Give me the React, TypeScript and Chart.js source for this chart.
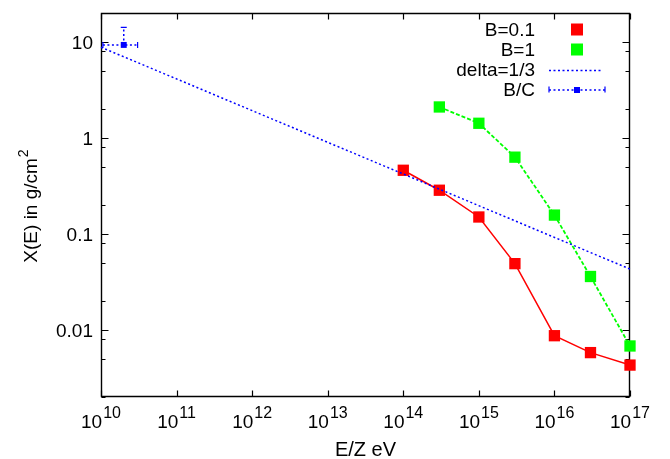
import { useEffect, useRef } from "react";
import { Chart, registerables } from "chart.js";

Chart.register(...registerables);

// ---- data ----
const energyB01 = [1e14, 3e14, 1e15, 3e15, 1e16, 3e16, 1e17];
const depthB01 = [0.46, 0.285, 0.15, 0.049, 0.0087, 0.0058, 0.0043];

const energyB1 = [3e14, 1e15, 3e15, 1e16, 3e16, 1e17];
const depthB1 = [2.1, 1.42, 0.63, 0.157, 0.036, 0.0068];

const energyDelta = [1e10, 1e17];
const depthDelta = [8.8, 0.043];

const energyBC = [2e10];
const depthBC = [9.3];
const energyBCLow = [1.06e10];
const energyBCHigh = [3.05e10];
const depthBCLow = [9.3];
const depthBCHigh = [14.2];

const xTickExponents = [10, 11, 12, 13, 14, 15, 16, 17];
const yMajorTicks = [0.01, 0.1, 1, 10];
const yMajorLabels = ["0.01", "0.1", "1", "10"];
const yMinorTicks = [0.002, 0.005, 0.008, 0.02, 0.05, 0.08, 0.2, 0.5, 0.8, 2, 5, 8, 20];
const legendLabels = ["B=0.1", "B=1", "delta=1/3", "B/C"];

const xTitle = "E/Z eV";
const yTitle = "X(E) in g/cm";
const yTitleSup = "2";

const FONT = '"Liberation Sans", Arial, Helvetica, sans-serif';
const RED = "#ff0000";
const GREEN = "#00ff00";
const BLUE = "#0000ff";
const DOT = [2, 2.5];

const framePlugin = {
  id: "gnuplotFrame",
  beforeDatasetsDraw(chart: any) {
    const { ctx, chartArea: a, scales } = chart;
    const xs = scales.x;
    const ys = scales.y;
    const L = Math.round(a.left) + 0.5;
    const R = Math.round(a.right) - 0.5;
    const T = Math.round(a.top) + 0.5;
    const B = Math.round(a.bottom) - 0.5;
    ctx.save();
    ctx.strokeStyle = "#000";
    ctx.lineWidth = 1.4;
    ctx.setLineDash([]);
    ctx.beginPath();
    ctx.moveTo(L, T);
    ctx.lineTo(R, T);
    ctx.lineTo(R, B);
    ctx.lineTo(L, B);
    ctx.closePath();
    ctx.stroke();

    ctx.lineWidth = 1.2;
    ctx.beginPath();
    xTickExponents.forEach((e) => {
      const px = Math.round(xs.getPixelForValue(Math.pow(10, e))) + 0.5;
      ctx.moveTo(px, B);
      ctx.lineTo(px, B - 6);
      ctx.moveTo(px, T);
      ctx.lineTo(px, T + 6);
    });
    yMajorTicks.forEach((v) => {
      const py = Math.round(ys.getPixelForValue(v)) + 0.5;
      ctx.moveTo(L, py);
      ctx.lineTo(L + 7, py);
      ctx.moveTo(R, py);
      ctx.lineTo(R - 7, py);
    });
    yMinorTicks.forEach((v) => {
      const py = Math.round(ys.getPixelForValue(v)) + 0.5;
      ctx.moveTo(L, py);
      ctx.lineTo(L + 4, py);
      ctx.moveTo(R, py);
      ctx.lineTo(R - 4, py);
    });
    ctx.stroke();

    // tick labels
    ctx.fillStyle = "#000";
    ctx.textBaseline = "alphabetic";
    ctx.font = `19px ${FONT}`;
    ctx.textAlign = "right";
    yMajorTicks.forEach((v, i) => {
      const py = ys.getPixelForValue(v);
      ctx.fillText(yMajorLabels[i], a.left - 8, py + 6.8);
    });
    ctx.textAlign = "left";
    xTickExponents.forEach((e) => {
      const px = xs.getPixelForValue(Math.pow(10, e));
      ctx.font = `19px ${FONT}`;
      const wb = ctx.measureText("10").width;
      ctx.font = `16px ${FONT}`;
      const we = ctx.measureText(String(e)).width;
      const total = wb + 1 + we;
      const x0 = px - total / 2;
      ctx.font = `19px ${FONT}`;
      ctx.fillText("10", x0, a.bottom + 30.5);
      ctx.font = `16px ${FONT}`;
      ctx.fillText(String(e), x0 + wb + 1, a.bottom + 20.5);
    });

    // axis titles
    ctx.font = `20px ${FONT}`;
    ctx.textAlign = "center";
    ctx.fillText(xTitle, (a.left + a.right) / 2, 456);

    ctx.save();
    ctx.font = `19px ${FONT}`;
    const wt = ctx.measureText(yTitle).width;
    ctx.font = `14px ${FONT}`;
    const ws = ctx.measureText(yTitleSup).width;
    const tot = wt + 1 + ws;
    ctx.translate(37, 206 + tot / 2);
    ctx.rotate(-Math.PI / 2);
    ctx.textAlign = "left";
    ctx.font = `19px ${FONT}`;
    ctx.fillText(yTitle, 0, 0);
    ctx.font = `14px ${FONT}`;
    ctx.fillText(yTitleSup, wt + 1, -9);
    ctx.restore();

    ctx.restore();
  },
  afterDatasetsDraw(chart: any) {
    const { ctx, scales } = chart;
    const xs = scales.x;
    const ys = scales.y;
    ctx.save();
    energyBC.forEach((e, i) => {
      const px = xs.getPixelForValue(e);
      const py = ys.getPixelForValue(depthBC[i]);
      const xl = xs.getPixelForValue(energyBCLow[i]);
      const xh = xs.getPixelForValue(energyBCHigh[i]);
      const yl = ys.getPixelForValue(depthBCLow[i]);
      const yh = ys.getPixelForValue(depthBCHigh[i]);
      ctx.strokeStyle = BLUE;
      ctx.lineWidth = 1.5;
      ctx.setLineDash(DOT);
      ctx.beginPath();
      ctx.moveTo(xl, py);
      ctx.lineTo(xh, py);
      ctx.moveTo(px, yl);
      ctx.lineTo(px, yh);
      ctx.stroke();
      ctx.setLineDash([]);
      ctx.lineWidth = 1.2;
      ctx.beginPath();
      ctx.moveTo(xl, py - 3);
      ctx.lineTo(xl, py + 3);
      ctx.moveTo(xh, py - 3);
      ctx.lineTo(xh, py + 3);
      ctx.moveTo(px - 3, yh);
      ctx.lineTo(px + 3, yh);
      ctx.stroke();
    });
    ctx.restore();
  },
  afterDraw(chart: any) {
    const { ctx } = chart;
    ctx.save();
    ctx.fillStyle = "#000";
    ctx.font = `19px ${FONT}`;
    ctx.textAlign = "right";
    ctx.textBaseline = "alphabetic";
    const rows = [29.5, 49.5, 69.5, 89.5];
    legendLabels.forEach((t, i) => ctx.fillText(t, 535, rows[i] + 6.8));
    // samples
    ctx.fillStyle = RED;
    ctx.fillRect(571, rows[0] - 6, 12, 12);
    ctx.fillStyle = GREEN;
    ctx.fillRect(571, rows[1] - 6, 12, 12);
    ctx.strokeStyle = BLUE;
    ctx.lineWidth = 1.5;
    ctx.setLineDash(DOT);
    ctx.beginPath();
    ctx.moveTo(549, rows[2] + 1);
    ctx.lineTo(603, rows[2] + 1);
    ctx.moveTo(549, rows[3] + 0.5);
    ctx.lineTo(605, rows[3] + 0.5);
    ctx.stroke();
    ctx.setLineDash([]);
    ctx.lineWidth = 1.2;
    ctx.beginPath();
    ctx.moveTo(549, rows[3] - 3);
    ctx.lineTo(549, rows[3] + 3);
    ctx.moveTo(605, rows[3] - 3);
    ctx.lineTo(605, rows[3] + 3);
    ctx.stroke();
    ctx.fillStyle = BLUE;
    ctx.fillRect(574, rows[3] - 2.5, 6, 6);
    ctx.restore();
  },
};

export default function App() {
  const ref = useRef<HTMLCanvasElement | null>(null);

  useEffect(() => {
    if (!ref.current) return;
    const toXY = (xs: number[], ys: number[]) => xs.map((x, i) => ({ x, y: ys[i] }));
    const chart = new Chart(ref.current, {
      type: "line",
      data: {
        datasets: [
          {
            label: legendLabels[0],
            data: toXY(energyB01, depthB01),
            borderColor: RED,
            backgroundColor: RED,
            borderWidth: 1.5,
            pointStyle: "rect",
            pointRadius: 8,
            pointBorderWidth: 0,
            pointBackgroundColor: RED,
            clip: false,
            order: 3,
          },
          {
            label: legendLabels[1],
            data: toXY(energyB1, depthB1),
            borderColor: GREEN,
            backgroundColor: GREEN,
            borderWidth: 1.8,
            borderDash: [4, 2],
            pointStyle: "rect",
            pointRadius: 8,
            pointBorderWidth: 0,
            pointBackgroundColor: GREEN,
            clip: false,
            order: 2,
          },
          {
            label: legendLabels[2],
            data: toXY(energyDelta, depthDelta),
            borderColor: BLUE,
            borderWidth: 1.5,
            borderDash: DOT,
            pointRadius: 0,
            clip: false,
            order: 1,
          },
          {
            label: legendLabels[3],
            data: toXY(energyBC, depthBC),
            borderColor: BLUE,
            backgroundColor: BLUE,
            showLine: false,
            pointStyle: "rect",
            pointRadius: 4.2,
            pointBorderWidth: 0,
            pointBackgroundColor: BLUE,
            clip: false,
            order: 0,
          },
        ],
      },
      options: {
        responsive: false,
        animation: false,
        events: [],
        layout: { padding: { left: 101, right: 40, top: 13, bottom: 62 } },
        plugins: { legend: { display: false }, tooltip: { enabled: false } },
        scales: {
          x: { type: "logarithmic", min: 1e10, max: 1e17, display: false },
          y: { type: "logarithmic", min: 0.002, max: 20, display: false },
        },
      },
      plugins: [framePlugin],
    });
    return () => chart.destroy();
  }, []);

  return (
    <div style={{ position: "absolute", left: 0, top: 0, width: 670, height: 459, background: "#fff" }}>
      <canvas ref={ref} width={670} height={459} style={{ display: "block", width: 670, height: 459 }} />
    </div>
  );
}
